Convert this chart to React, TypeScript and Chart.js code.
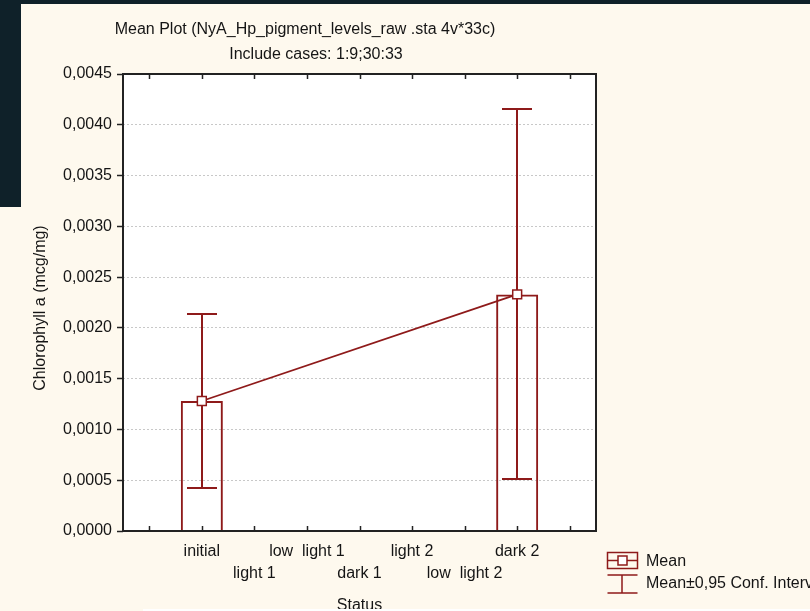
import { useEffect, useRef } from "react";
import { Chart, registerables } from "chart.js";

Chart.register(...registerables);

// Groups on the x axis (the axis keeps one empty slot at each end)
const categories = ["initial", "light 1", "low  light 1", "dark 1", "light 2", "low  light 2", "dark 2"];
// Group means and the 95% confidence limits
const meanValues: (number | null)[] = [0.00128, null, null, null, null, null, 0.00233];
const ciLower: (number | null)[] = [0.00042, null, null, null, null, null, 0.00051];
const ciUpper: (number | null)[] = [0.00214, null, null, null, null, null, 0.00416];
// Value axis
const yMin = 0;
const yMax = 0.0045;
const yStep = 0.0005;

const titleText = "Mean Plot (NyA_Hp_pigment_levels_raw .sta 4v*33c)";
const subtitleText = "Include cases: 1:9;30:33";
const yAxisTitle = "Chlorophyll a (mcg/mg)";
const xAxisTitle = "Status";
const legendLabels = ["Mean", "Mean±0,95 Conf. Interval"];

const FONT = "'Liberation Sans', Arial, Helvetica, sans-serif";
const RED = "#8e1a1a";
const INK = "#151515";
const CREAM = "#fef9ee";
const DARK = "#0f2129";

const pad = <T,>(arr: T[]): (T | null)[] => [null, ...arr, null];
const slotLabels = ["", ...categories, ""];

const decorPlugin = {
  id: "decor",
  beforeDraw(chart: any) {
    const { ctx, chartArea: a } = chart;
    ctx.save();
    ctx.fillStyle = "#ffffff";
    ctx.fillRect(a.left, a.top, a.right - a.left, a.bottom - a.top);
    ctx.restore();
  },
  afterDatasetDraw(chart: any, args: any) {
    if (args.meta.type !== "bar") return;
    const { ctx } = chart;
    const xs = chart.scales.x;
    const ys = chart.scales.y;
    const lo = pad(ciLower);
    const hi = pad(ciUpper);
    ctx.save();
    ctx.strokeStyle = RED;
    ctx.lineWidth = 2;
    ctx.beginPath();
    for (let i = 0; i < lo.length; i++) {
      const l = lo[i];
      const h = hi[i];
      if (l == null || h == null) continue;
      const px = Math.round(xs.getPixelForValue(i));
      const yl = Math.round(ys.getPixelForValue(l));
      const yh = Math.round(ys.getPixelForValue(h));
      ctx.moveTo(px, yh);
      ctx.lineTo(px, yl);
      ctx.moveTo(px - 15, yh);
      ctx.lineTo(px + 15, yh);
      ctx.moveTo(px - 15, yl);
      ctx.lineTo(px + 15, yl);
    }
    ctx.stroke();
    ctx.restore();
  },
  afterDraw(chart: any) {
    const { ctx, chartArea: a } = chart;
    const xs = chart.scales.x;
    ctx.save();

    // plot frame
    ctx.strokeStyle = "#222222";
    ctx.lineWidth = 2;
    ctx.strokeRect(a.left, a.top, a.right - a.left, a.bottom - a.top);

    // inner tick marks on the bottom and top edges
    ctx.lineWidth = 1.5;
    ctx.beginPath();
    for (let i = 0; i < xs.ticks.length; i++) {
      const px = Math.round(xs.getPixelForTick(i)) + 0.5;
      ctx.moveTo(px, a.bottom);
      ctx.lineTo(px, a.bottom - 5);
      ctx.moveTo(px, a.top);
      ctx.lineTo(px, a.top + 5);
    }
    ctx.stroke();

    // titles
    ctx.fillStyle = INK;
    ctx.font = `16px ${FONT}`;
    ctx.textBaseline = "alphabetic";
    ctx.textAlign = "center";
    ctx.fillText(titleText, 305, 33.5);
    ctx.fillText(subtitleText, 316, 59);

    // axis titles
    ctx.textBaseline = "middle";
    ctx.fillText(xAxisTitle, (a.left + a.right) / 2, 606);
    ctx.save();
    ctx.translate(40.5, 308);
    ctx.rotate(-Math.PI / 2);
    ctx.fillText(yAxisTitle, 0, 0);
    ctx.restore();

    // legend
    ctx.strokeStyle = RED;
    ctx.lineWidth = 1.5;
    ctx.strokeRect(607.5, 552.5, 30, 16);
    ctx.beginPath();
    ctx.moveTo(607.5, 560.5);
    ctx.lineTo(637.5, 560.5);
    ctx.stroke();
    ctx.fillStyle = "#ffffff";
    ctx.fillRect(618, 556, 9, 9);
    ctx.strokeRect(618, 556, 9, 9);

    ctx.beginPath();
    ctx.moveTo(607.5, 575);
    ctx.lineTo(637.5, 575);
    ctx.moveTo(622, 575);
    ctx.lineTo(622, 593);
    ctx.moveTo(607.5, 593);
    ctx.lineTo(637.5, 593);
    ctx.stroke();

    ctx.fillStyle = INK;
    ctx.textAlign = "left";
    ctx.textBaseline = "middle";
    ctx.fillText(legendLabels[0], 646, 562);
    ctx.fillText(legendLabels[1], 646, 584);

    ctx.restore();
  },
};

export default function App() {
  const canvasRef = useRef<HTMLCanvasElement | null>(null);

  useEffect(() => {
    const canvas = canvasRef.current;
    if (!canvas) return;
    const chart = new Chart(canvas, {
      type: "bar",
      data: {
        labels: slotLabels,
        datasets: [
          {
            type: "line",
            label: "Mean",
            data: pad(meanValues),
            spanGaps: true,
            borderColor: RED,
            borderWidth: 1.8,
            pointStyle: "rect",
            pointRadius: 6.3,
            pointBackgroundColor: "#ffffff",
            pointBorderColor: RED,
            pointBorderWidth: 1.5,
            order: 1,
          } as any,
          {
            type: "bar",
            label: "Mean bar",
            data: pad(meanValues),
            backgroundColor: "rgba(255,255,255,0)",
            borderColor: RED,
            borderWidth: 2,
            barPercentage: 0.8,
            categoryPercentage: 1,
            order: 2,
          } as any,
        ],
      },
      options: {
        responsive: false,
        animation: false,
        devicePixelRatio: 1,
        layout: { padding: { top: 74, right: 214, left: 0, bottom: 0 } },
        plugins: {
          legend: { display: false },
          tooltip: { enabled: false },
          title: { display: false },
        },
        scales: {
          x: {
            type: "category",
            offset: true,
            grid: { display: false },
            border: { display: false },
            ticks: {
              autoSkip: false,
              maxRotation: 0,
              minRotation: 0,
              padding: 2,
              color: INK,
              font: { family: FONT, size: 16, lineHeight: 1.375 },
              callback: (_v: any, i: number) => {
                const lab = slotLabels[i];
                if (!lab) return "";
                return i % 2 === 1 ? [lab, ""] : ["", lab];
              },
            },
            afterFit: (s: any) => {
              s.height = 80;
            },
          },
          y: {
            type: "linear",
            min: yMin,
            max: yMax,
            border: { display: false, dash: [2, 2] },
            grid: {
              color: (c: any) => (c.index === 0 || c.index === 9 ? "rgba(0,0,0,0)" : "#c8c8c8"),
              lineWidth: 1,
              tickLength: 6,
              tickColor: "#222222",
              tickWidth: 1.5,
              tickBorderDash: [],
            } as any,
            ticks: {
              stepSize: yStep,
              padding: 5,
              color: INK,
              font: { family: FONT, size: 16 },
              callback: (v: any) => Number(v).toFixed(4).replace(".", ","),
            },
            afterFit: (s: any) => {
              s.width = 123;
            },
          },
        },
      },
      plugins: [decorPlugin],
    });
    return () => chart.destroy();
  }, []);

  return (
    <div
      style={{
        position: "absolute",
        left: 0,
        top: 0,
        width: 810,
        height: 611,
        overflow: "hidden",
        background: CREAM,
      }}
    >
      <div style={{ position: "absolute", left: 0, top: 0, width: 810, height: 4, background: DARK }} />
      <div style={{ position: "absolute", left: 0, top: 0, width: 21, height: 207, background: DARK }} />
      <canvas
        ref={canvasRef}
        width={810}
        height={611}
        style={{ position: "absolute", left: 0, top: 0, width: 810, height: 611 }}
      />
      <div style={{ position: "absolute", left: 143, top: 609, width: 667, height: 2, background: "#ffffff" }} />
    </div>
  );
}
